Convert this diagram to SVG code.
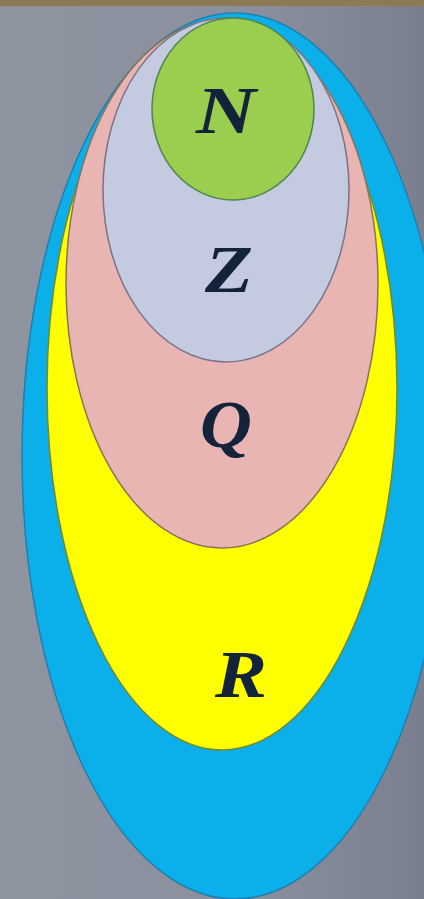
<svg xmlns="http://www.w3.org/2000/svg" width="424" height="899" viewBox="0 0 424 899">
<defs>
<linearGradient id="bg" x1="0" y1="0" x2="1" y2="0">
<stop offset="0" stop-color="#8f94a1"/>
<stop offset="0.6" stop-color="#8a8f9d"/>
<stop offset="1" stop-color="#7a7f90"/>
</linearGradient>
<style>
.lbl{font-family:"Liberation Serif","DejaVu Serif",serif;font-weight:bold;font-style:italic;font-size:68px;fill:#13233a;text-anchor:middle}
.set{stroke-width:1.5}
</style>
</defs>
<rect width="424" height="899" fill="url(#bg)"/>
<rect width="424" height="6" fill="#8c7a55"/>
<g id="R">
<ellipse class="set" cx="235" cy="456" rx="213" ry="443" fill="#0bb0ea" stroke="#1f7fb0"/>
</g>
<g id="Rin">
<ellipse class="set" cx="222" cy="388" rx="175" ry="362" fill="#ffff00" stroke="#6f8a2e"/>
</g>
<g id="Q">
<ellipse class="set" cx="222" cy="284" rx="156" ry="264" fill="#e8b5b2" stroke="#86745a"/>
</g>
<g id="Z">
<ellipse class="set" cx="226" cy="190" rx="123" ry="172" fill="#c4cadf" stroke="#7a7389"/>
</g>
<g id="N">
<ellipse class="set" cx="233" cy="109" rx="81" ry="91" fill="#9bcd4f" stroke="#4d8650"/>
</g>
<g id="labels">
<text class="lbl" x="226" y="133" textLength="60" lengthAdjust="spacingAndGlyphs">N</text>
<text class="lbl" x="229" y="292" textLength="48" lengthAdjust="spacingAndGlyphs">Z</text>
<text class="lbl" x="226" y="447" textLength="52" lengthAdjust="spacingAndGlyphs">Q</text>
<text class="lbl" x="241" y="697" textLength="52" lengthAdjust="spacingAndGlyphs">R</text>
</g>
</svg>
